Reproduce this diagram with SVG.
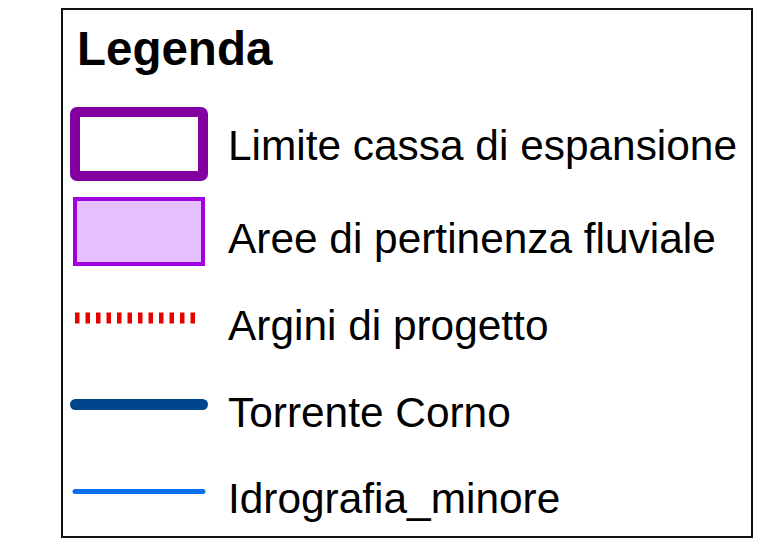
<svg xmlns="http://www.w3.org/2000/svg" width="761" height="545" viewBox="0 0 761 545">
<style>
text{font-family:"Liberation Sans",Arial,sans-serif;fill:#000}
.lbl{font-size:42.4px}
.title{font-size:47.5px;font-weight:bold}
</style>
<rect width="761" height="545" fill="#fff"/>
<g id="frame"><rect x="62" y="9" width="690" height="528" fill="#fff" stroke="#111" stroke-width="2"/></g>
<g id="title"><text class="title" x="77" y="65">Legenda</text></g>
<g id="limite">
<rect x="75" y="112" width="128" height="64" rx="2" fill="#fff" stroke="#8200a0" stroke-width="10"/>
<text class="lbl" x="228" y="160">Limite cassa di espansione</text>
</g>
<g id="aree">
<rect x="75" y="199" width="128" height="65" fill="#e6bfff" stroke="#a100e0" stroke-width="4"/>
<text class="lbl" x="228" y="253">Aree di pertinenza fluviale</text>
</g>
<g id="connectors">
<line id="argini" x1="75" y1="318" x2="198" y2="318" stroke="#e80000" stroke-width="11" stroke-dasharray="4.5 6"/>
<line id="torrente" x1="75.5" y1="404.5" x2="202.5" y2="404.5" stroke="#00468c" stroke-width="11" stroke-linecap="round"/>
<line id="idro" x1="75" y1="491.5" x2="203" y2="491.5" stroke="#0a70f0" stroke-width="5" stroke-linecap="round"/>
</g>
<g id="labels">
<text class="lbl" x="228" y="340">Argini di progetto</text>
<text class="lbl" x="228" y="427">Torrente Corno</text>
<text class="lbl" x="228" y="513">Idrografia_minore</text>
</g>
</svg>
